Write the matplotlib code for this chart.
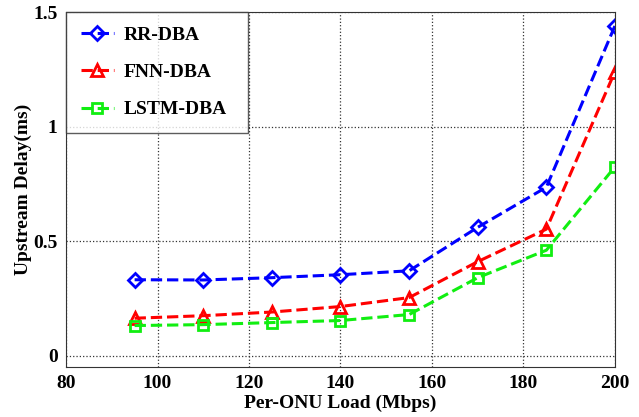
import matplotlib
matplotlib.use("Agg")
import matplotlib.pyplot as plt

loads = [95, 110, 125, 140, 155, 170, 185, 200]
rr_dba = [0.331, 0.330, 0.340, 0.353, 0.370, 0.560, 0.735, 1.440]
fnn_dba = [0.163, 0.174, 0.190, 0.214, 0.253, 0.410, 0.552, 1.240]
lstm_dba = [0.131, 0.135, 0.144, 0.153, 0.179, 0.340, 0.460, 0.824]

plt.rcParams["font.family"] = ["Liberation Serif", "DejaVu Serif"]
plt.rcParams["font.weight"] = "bold"

fig = plt.figure(figsize=(6.39, 4.17), dpi=100)
ax = fig.add_axes([0.1033, 0.1199, 0.8591, 0.8513])

ax.plot(loads, rr_dba, "--", color="#0000ff", lw=2.2, marker="D", ms=7,
        mfc="none", mew=2, label="RR-DBA")
ax.plot(loads, fnn_dba, "--", color="#ff0000", lw=2.2, marker="^", ms=9,
        mfc="none", mew=2, label="FNN-DBA")
ax.plot(loads, lstm_dba, "--", color="#11ee11", lw=2.2, marker="s", ms=7,
        mfc="none", mew=2, label="LSTM-DBA")

ax.set_xlim(80, 200)
ax.set_ylim(-0.05, 1.5)
ax.set_xticks([80, 100, 120, 140, 160, 180, 200])
ax.set_yticks([0, 0.5, 1, 1.5])
ax.set_yticklabels(["0", "0.5", "1", "1.5"])
ax.tick_params(length=0, labelsize=14, pad=6)
for lab in ax.get_xticklabels() + ax.get_yticklabels():
    lab.set_fontweight("bold")
ax.grid(True, color="#333333", linestyle=":", linewidth=0.9)
for sp in ax.spines.values():
    sp.set_color("#333333")

ax.set_xlabel("Per-ONU Load (Mbps)", fontsize=14, fontweight="bold", labelpad=2)
ax.set_ylabel("Upstream Delay(ms)", fontsize=14, fontweight="bold", labelpad=1)

leg = ax.legend(loc="upper left", bbox_to_anchor=(0, 0, 0.3315, 1), mode="expand",
                fontsize=14, frameon=True, fancybox=False,
                edgecolor="#333333", borderaxespad=0, handlelength=1.7,
                handletextpad=0.5, labelspacing=1.0, borderpad=0.75)
leg.get_frame().set_linewidth(1.0)
for t in leg.get_texts():
    t.set_fontweight("bold")

plt.savefig("out.png", dpi=100)
